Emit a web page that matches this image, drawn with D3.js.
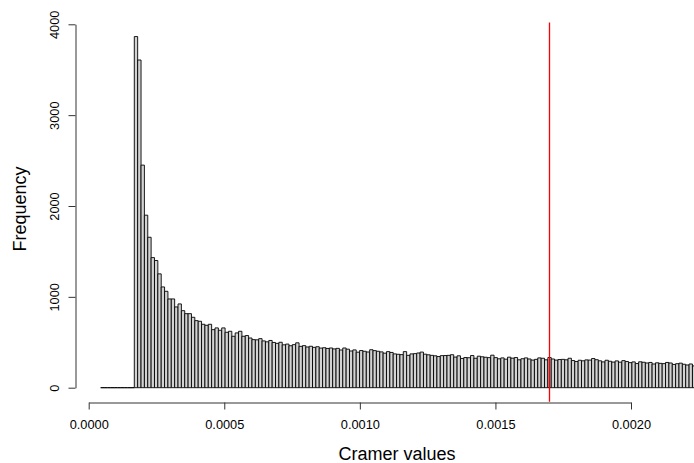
<!DOCTYPE html>
<html>
<head>
<meta charset="utf-8">
<script src="https://cdn.jsdelivr.net/npm/d3@7"></script>
<style>
  body { margin: 0; background: #fff; }
  text { font-family: "Liberation Sans", Arial, sans-serif; fill: #000; }
</style>
</head>
<body>
<div id="chart"></div>
<script>
// histogram bins (Cramer values)
const binStart = 0.0000442
const binWidth = 0.0000124
const counts = [
    0, 0, 0, 0, 0, 0, 0, 0, 0, 0,
    3865, 3607, 2450, 1899, 1656, 1432, 1400, 1253, 1109, 1061,
    977, 977, 889, 922, 848, 815, 815, 775, 738, 731,
    698, 687, 698, 639, 658, 632, 658, 610, 621, 566,
    603, 621, 566, 574, 547, 529, 527, 540, 515, 505,
    520, 498,
    488, 500, 472, 480, 462, 474, 494, 455, 463, 448,
    456, 444, 451, 436, 440, 432, 437, 427, 433, 415,
    437, 424, 404, 416, 391, 409, 401, 393, 418, 408,
    401, 394, 380, 397, 388, 372, 368, 364,
    397, 356, 372, 375, 382, 392, 369, 362, 356, 351,
    343, 353, 354, 356, 363, 337, 351, 322, 332, 330,
    354, 324, 347, 340, 335, 331, 358, 331, 318, 328,
    314, 336, 325, 332, 307, 319, 328, 316, 304, 312,
    328,
    324, 307, 332, 316, 304, 310, 312, 307, 324, 299,
    288, 302, 296, 306, 304, 321, 308, 296, 284, 302,
    291, 282, 295, 281, 298, 288, 276, 284, 266, 285,
    280, 272, 278, 261, 274, 268, 265, 278, 272, 256,
    264, 270, 258, 250, 261, 240
]
const xTicks = [0, 0.0005, 0.001, 0.0015, 0.002]
const yTicks = [0, 1000, 2000, 3000, 4000]
const cutoff = 0.0017

const W = 694, H = 463

let x = d3.scaleLinear().domain([0, 0.002]).range([88.7, 631])
let y = d3.scaleLinear().domain([0, 4000]).range([387.7, 24.3])

const bins = counts.map((c, i) => ({
    x0: binStart + i * binWidth,
    x1: binStart + (i + 1) * binWidth,
    count: c
}))

let svg = d3.select("#chart").append("svg")
    .attr("width", W)
    .attr("height", H)

svg.append("rect").attr("width", W).attr("height", H).attr("fill", "#fff")

// bars (paths so that empty bins still show as a line on the baseline)
svg.append("g")
  .selectAll("path")
  .data(bins)
  .join("path")
    .attr("d", d => `M${x(d.x0)},${y(0)}V${y(d.count)}H${x(d.x1)}V${y(0)}Z`)
    .attr("fill", "#d3d3d3")
    .attr("stroke", "#000")
    .attr("stroke-width", 0.9)

// red reference line over the whole plot region
const cx = Math.floor(x(cutoff)) + 0.5
svg.append("line")
    .attr("x1", cx).attr("x2", cx)
    .attr("y1", y(4020)).attr("y2", y(-155))
    .style("stroke", "rgb(255,0,0)")
    .style("stroke-width", "1.3px")

// x axis, R style
const xAxisY = 402.5
let xAxis = d3.axisBottom(x)
    .tickValues(xTicks)
    .tickFormat(d3.format(".4f"))
    .tickSize(7)
    .tickSizeOuter(0)
    .tickPadding(10)

svg.append("g")
    .attr("transform", `translate(0,${xAxisY})`)
    .call(xAxis)
    .call(g => g.select(".domain").attr("stroke", "#333"))
    .call(g => g.selectAll(".tick line").attr("stroke", "#333"))
    .call(g => g.selectAll(".tick text")
        .attr("font-size", "12.8px")
        .attr("font-family", "Liberation Sans, Arial, sans-serif")
        .attr("fill", "#000"))

// y axis, labels turned like R's las=0
const yAxisX = 75.5
let yAxis = d3.axisLeft(y)
    .tickValues(yTicks)
    .tickSize(7)
    .tickSizeOuter(0)
    .tickFormat(d3.format("d"))

svg.append("g")
    .attr("transform", `translate(${yAxisX},0)`)
    .call(yAxis)
    .call(g => g.select(".domain").attr("stroke", "#333"))
    .call(g => g.selectAll(".tick line").attr("stroke", "#333"))
    .call(g => g.selectAll(".tick text")
        .attr("x", null).attr("dy", null)
        .attr("transform", "translate(-17,0) rotate(-90)")
        .attr("text-anchor", "middle")
        .attr("font-size", "12.8px")
        .attr("font-family", "Liberation Sans, Arial, sans-serif")
        .attr("fill", "#000"))

svg.append("text")
    .attr("x", 397)
    .attr("y", 460)
    .attr("text-anchor", "middle")
    .attr("font-size", "18px")
    .text("Cramer values")

svg.append("text")
    .attr("transform", "translate(25.5,209) rotate(-90)")
    .attr("text-anchor", "middle")
    .attr("font-size", "18px")
    .text("Frequency")
</script>
</body>
</html>
